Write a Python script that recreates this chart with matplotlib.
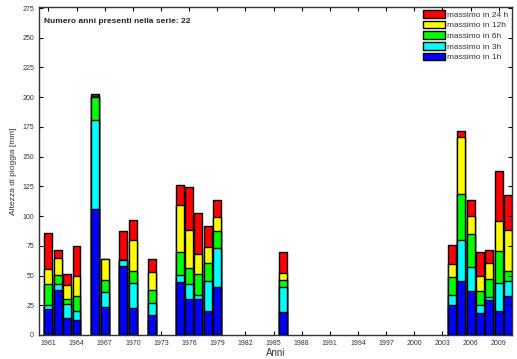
import numpy as np
import matplotlib
matplotlib.use('Agg')
import matplotlib.pyplot as plt

plt.rcParams['font.family'] = ['Liberation Sans', 'DejaVu Sans']

anni = [1961, 1962, 1963, 1964, 1966, 1967, 1969, 1970, 1972,
        1975, 1976, 1977, 1978, 1979, 1986,
        2004, 2005, 2006, 2007, 2008, 2009, 2010]

max_1h = [22, 38, 14.5, 12.3, 106, 23.8, 58.4, 22.7, 16.8,
          44.7, 30.5, 30.5, 20.1, 40.5, 19.3,
          24.9, 45, 37.2, 18.2, 29.4, 20.1, 32.7]
max_3h = [25.5, 42.5, 26.3, 20.1, 180.4, 36.1, 62.9, 43.9, 26.8,
          50.3, 42.5, 33.6, 45, 73, 40.5,
          33.8, 80, 57.3, 24.9, 32.2, 43.9, 45]
max_6h = [42.5, 50.3, 30.5, 32.4, 200.3, 46.1, 62.9, 53.7, 37.8,
          69.6, 56.2, 51.5, 60.7, 87.8, 46.4,
          48.7, 118.5, 84.5, 36.9, 47.3, 71, 53.7]
max_12h = [55.1, 64.9, 41.7, 49.2, 200.8, 64.3, 62.9, 79.7, 52.9,
           109.1, 88.6, 68.2, 73.8, 99, 51.7,
           59.6, 166.6, 99.8, 50, 60.4, 95.6, 88.6]
max_24h = [85.8, 71.3, 51.5, 74.4, 202.3, 64.3, 87.8, 97, 63.5,
           126.4, 124.2, 102.6, 92, 113.8, 69.9,
           75.5, 171.4, 113.8, 69.9, 71.3, 137.6, 117.4]

serie = [
    (max_24h, (1, 0, 0), 'massimo in 24 h'),
    (max_12h, (1, 1, 0), 'massimo in 12h'),
    (max_6h, (0, 1, 0), 'massimo in 6h'),
    (max_3h, (0, 1, 1), 'massimo in 3h'),
    (max_1h, (0, 0, 1), 'massimo in 1h'),
]

fig = plt.figure(figsize=(5.17, 3.59), dpi=100)
ax = fig.add_axes([0.0754, 0.067, 0.9146, 0.914])

# barre sovrapposte: la piu' lunga dietro
for valori, colore, etichetta in serie:
    ax.bar(anni, valori, width=0.85, color=colore, edgecolor='black',
           linewidth=1.0, label=etichetta)

ax.set_xlim(1960, 2010.4)
ax.set_ylim(0, 276)
ax.set_xticks(np.arange(1961, 2010, 3))
ax.set_yticks(np.arange(0, 276, 25))
ax.tick_params(direction='in', top=True, right=True, labelsize=5,
               length=3, width=0.8, colors='black', labelcolor='#333333')
for s in ax.spines.values():
    s.set_linewidth(1.0)
    s.set_color('#333333')

ax.set_xlabel('Anni', fontsize=7, color='#333333', labelpad=1)
ax.set_ylabel('Altezza di pioggia [mm]', fontsize=6, color='#333333', labelpad=4)

ax.text(0.01, 0.965, 'Numero anni presenti nella serie: 22', transform=ax.transAxes,
        fontsize=6, fontweight='bold', color='#222222', va='top', ha='left')

leg = ax.legend(loc='upper right', fontsize=6, frameon=False,
                handlelength=2.6, handleheight=1.0, labelspacing=0.25,
                handletextpad=0.3, borderaxespad=0.2, borderpad=0.2)
for t in leg.get_texts():
    t.set_color('#333333')

fig.savefig('out.png', dpi=100)
